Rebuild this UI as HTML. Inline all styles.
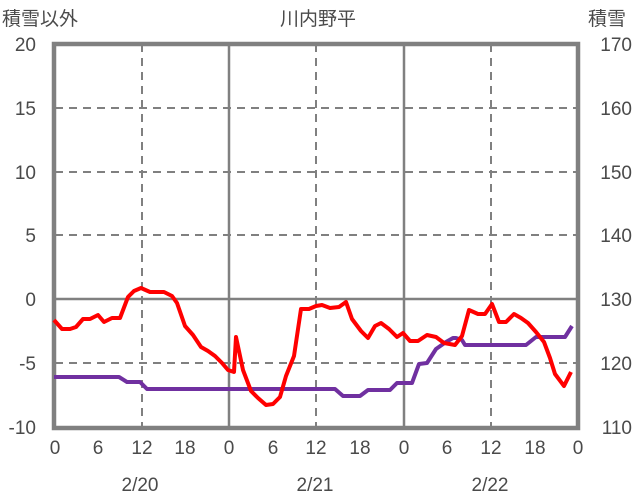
<!DOCTYPE html><html><head><meta charset="utf-8"><style>body{margin:0;background:#fff}svg{display:block}text{font-family:"Liberation Sans","Noto Sans CJK JP",sans-serif;fill:#4a4a4a;font-size:19px}</style></head><body>
<svg width="636" height="501" viewBox="0 0 636 501">
<g stroke="#808080" stroke-width="2" stroke-dasharray="8,6" fill="none">
<line x1="55" y1="108" x2="578" y2="108"/><line x1="55" y1="172" x2="578" y2="172"/><line x1="55" y1="235" x2="578" y2="235"/><line x1="55" y1="363" x2="578" y2="363"/>
<line x1="142" y1="44" x2="142" y2="427"/><line x1="316" y1="44" x2="316" y2="427"/><line x1="491" y1="44" x2="491" y2="427"/>
</g>
<g stroke="#808080" stroke-width="2.5"><line x1="55" y1="299" x2="578" y2="299"/><line x1="229" y1="44" x2="229" y2="427"/><line x1="404" y1="44" x2="404" y2="427"/></g>
<rect x="54" y="44" width="524" height="384" fill="none" stroke="#808080" stroke-width="4.5"/>
<polyline fill="none" stroke="#7030a0" stroke-width="4" stroke-linejoin="round" points="54,377 119,377 127,382 140,382 147,389 335,389 343,396 360,396 368,390 390,390 397,383 412,383 419,364 427,363 436,349 446,342 453,338 456,338 462,340 465,345 526,345 536,337 565,337 572,326"/>
<polyline fill="none" stroke="#ff0000" stroke-width="4" stroke-linejoin="round" points="54,320 62,329 70,329 76,327 83,319 90,319 98,315 104,322 112,318 120,318 128,297 134,291 141,288 150,292 160,292 164,292 172,296 177,303 185,326 193,335 201,347 208,351 215,356 222,363 228,370 234,372 236,337 243,370 251,391 258,398 266,405 273,404 280,397 286,376 294,356 301,309 309,309 316,306 322,305 330,308 339,307 346,302 352,319 361,331 368,338 375,326 381,323 389,329 397,337 403,333 410,341 418,341 427,335 436,337 444,343 455,345 462,336 469,310 478,314 485,314 492,304 499,322 506,322 514,314 521,318 528,323 536,332 544,342 550,358 555,374 564,386 571,372"/>
<g text-anchor="end"><text x="36" y="51">20</text><text x="36" y="115">15</text><text x="36" y="179">10</text><text x="36" y="242">5</text><text x="36" y="306">0</text><text x="36" y="370">-5</text><text x="36" y="434">-10</text></g>
<g text-anchor="end"><text x="632" y="51">170</text><text x="632" y="115">160</text><text x="632" y="179">150</text><text x="632" y="242">140</text><text x="632" y="306">130</text><text x="632" y="370">120</text><text x="632" y="434">110</text></g>
<g text-anchor="middle"><text x="55" y="454">0</text><text x="98" y="454">6</text><text x="142" y="454">12</text><text x="185" y="454">18</text><text x="229" y="454">0</text><text x="273" y="454">6</text><text x="316" y="454">12</text><text x="360" y="454">18</text><text x="404" y="454">0</text><text x="447" y="454">6</text><text x="491" y="454">12</text><text x="535" y="454">18</text><text x="578" y="454">0</text>
<text x="140" y="491">2/20</text><text x="315" y="491">2/21</text><text x="490" y="491">2/22</text>
<text x="318" y="25">川内野平</text></g>
<text x="2" y="25">積雪以外</text><text x="588" y="25">積雪</text>
</svg></body></html>
